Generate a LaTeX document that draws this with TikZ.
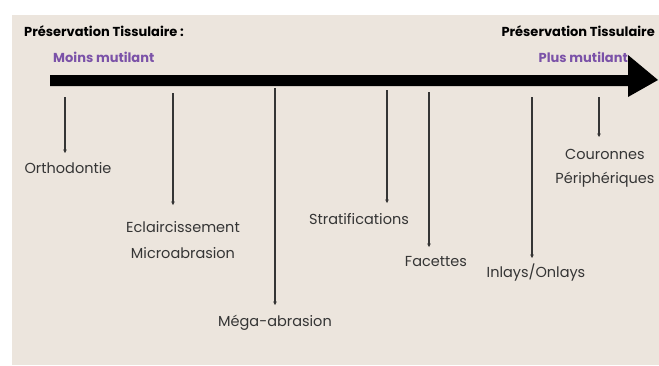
\documentclass[tikz,border=0pt]{standalone}
\usepackage{fontspec}
\setmainfont{Poppins}
\usetikzlibrary{arrows.meta}
\definecolor{bg}{HTML}{ECE5DD}
\definecolor{purp}{HTML}{7B52A8}
\definecolor{ink}{HTML}{353535}
\tikzset{
  lbl/.style={inner sep=0pt, text=ink, font=\fontsize{14.5}{16}\selectfont},
  ttl/.style={inner sep=0pt, text=black, font=\fontsize{13}{15}\selectfont\bfseries},
  sub/.style={inner sep=0pt, text=purp, font=\fontsize{13}{15}\selectfont\bfseries},
  drop/.style={draw=ink, line width=1.1pt, -{Stealth[length=3.5pt,width=3.5pt]}}
}
\begin{document}
\begin{tikzpicture}[x=1pt,y=-1pt]
\useasboundingbox (0,0) rectangle (659,365);
\fill[white] (0,0) rectangle (659,365);
\fill[bg] (12,15) rectangle (659,365);
% titles
\node[ttl, anchor=west] (t1) at (24,31) {Préservation Tissulaire :};
\node[sub, anchor=west] (s1) at (53,57) {Moins mutilant};
\node[ttl, anchor=east] (t2) at (655,31) {Préservation Tissulaire};
\node[sub, anchor=east] (s2) at (628,57) {Plus mutilant};
% main arrow
\coordinate (barstart) at (50,80);
\coordinate (bartip) at (658,80);
\fill[black] (50,75) -- (628,75) -- (628,55) -- (bartip) -- (628,97) -- (628,86) -- (50,86) -- cycle;
% labels
\node[lbl] (ortho) at (68,168) {Orthodontie};
\node[lbl] (ecl) at (183,227) {Eclaircissement};
\node[lbl] (micro) at (183,253) {Microabrasion};
\node[lbl] (mega) at (275,323) {Méga-abrasion};
\node[lbl] (strat) at (359,219) {Stratifications};
\node[lbl] (fac) at (436,262) {Facettes};
\node[lbl] (inl) at (536,273) {Inlays/Onlays};
\node[lbl] (cour) at (605,154) {Couronnes};
\node[lbl] (peri) at (605,180) {Périphériques};
% drop coordinates
\coordinate (a1) at (65,97);  \coordinate (b1) at (65,153);
\coordinate (a2) at (173,93); \coordinate (b2) at (173,205);
\coordinate (a3) at (275,88); \coordinate (b3) at (275,305);
\coordinate (a4) at (387,90); \coordinate (b4) at (387,203);
\coordinate (a5) at (429,92); \coordinate (b5) at (429,247);
\coordinate (a6) at (532,97); \coordinate (b6) at (532,258);
\coordinate (a7) at (599,97); \coordinate (b7) at (599,137);
\foreach \i in {1,...,7} { \draw[drop] (a\i) -- (b\i); }
\end{tikzpicture}
\end{document}
